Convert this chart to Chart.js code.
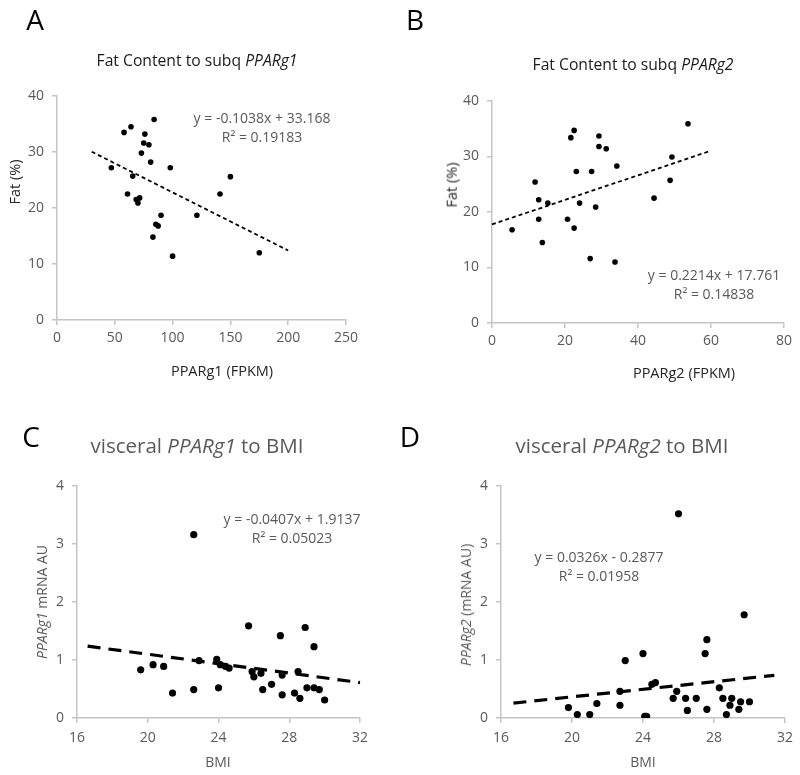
<!DOCTYPE html>
<html>
<head>
<meta charset="utf-8">
<script src="https://cdn.jsdelivr.net/npm/chart.js@4"></script>
<style>
body { margin: 0; background: #fff; }
#wrap { position: relative; width: 800px; height: 775px; font-family: "Open Sans", sans-serif; }
#wrap canvas { position: absolute; }
.t { position: absolute; white-space: nowrap; line-height: 1; transform: translate(-50%, -50%); }
.v { transform: translate(-50%, -50%) rotate(-90deg); }
.letter { font-size: 28px; color: #000; }
.ttl { font-size: 15.7px; color: #1a1a1a; }
.ttl2 { font-size: 20.5px; color: #595959; }
.eq { font-size: 14px; color: #595959; text-align: center; line-height: 19px; }
.ax { font-size: 14.5px; color: #262626; }
.ax2 { font-size: 14px; color: #595959; }
</style>
</head>
<body>
<div id="wrap">
  <canvas id="chartA" width="400" height="385" style="left:0;top:0"></canvas>
  <canvas id="chartB" width="400" height="385" style="left:400px;top:0"></canvas>
  <canvas id="chartC" width="400" height="390" style="left:0;top:385px"></canvas>
  <canvas id="chartD" width="400" height="390" style="left:400px;top:385px"></canvas>

  <div class="t letter" style="left:35px;top:19px">A</div>
  <div class="t letter" style="left:415px;top:19px">B</div>
  <div class="t letter" style="left:31px;top:436px">C</div>
  <div class="t letter" style="left:410px;top:436px">D</div>

  <div class="t ttl" style="left:197px;top:61px">Fat Content to subq <i>PPARg1</i></div>
  <div class="t ttl" style="left:633px;top:65px">Fat Content to subq <i>PPARg2</i></div>
  <div class="t ttl2" style="left:197px;top:445px">visceral <i>PPARg1</i> to BMI</div>
  <div class="t ttl2" style="left:622px;top:445px">visceral <i>PPARg2</i> to BMI</div>

  <div class="t eq" style="left:262px;top:127px">y = -0.1038x + 33.168<br>R² = 0.19183</div>
  <div class="t eq" style="left:714px;top:284px">y = 0.2214x + 17.761<br>R² = 0.14838</div>
  <div class="t eq" style="left:292px;top:528px">y = -0.0407x + 1.9137<br>R² = 0.05023</div>
  <div class="t eq" style="left:599px;top:566px">y = 0.0326x - 0.2877<br>R² = 0.01958</div>

  <div class="t ax v" style="left:15px;top:182px">Fat (%)</div>
  <div class="t ax" style="left:222px;top:371px">PPARg1 (FPKM)</div>
  <div class="t ax v" style="left:452px;top:185px">Fat (%)</div>
  <div class="t ax" style="left:684px;top:373px">PPARg2 (FPKM)</div>
  <div class="t ax2 v" style="left:42px;top:602px"><i>PPARg1</i> mRNA AU</div>
  <div class="t ax2" style="left:218px;top:762px">BMI</div>
  <div class="t ax2 v" style="left:466px;top:605px"><i>PPARg2</i> (mRNA AU)</div>
  <div class="t ax2" style="left:643px;top:762px">BMI</div>
</div>

<script>
// A: subcutaneous PPARg1 (FPKM) vs fat %
var pparg1Fpkm = [47, 58, 64, 84, 76, 75, 79.5, 73, 81, 98, 65.5, 61, 68.5, 71.5, 70, 90, 85.5, 87.5, 83, 100, 121, 141, 150, 175];
var fatA = [27.2, 33.5, 34.5, 35.8, 33.2, 31.6, 31.3, 29.8, 28.2, 27.2, 25.7, 22.5, 21.5, 21.8, 20.9, 18.7, 17.1, 16.8, 14.8, 11.4, 18.7, 22.5, 25.6, 12.0];
var trendA = [[30, 30.05], [200, 12.41]];
var xTicksA = [0, 50, 100, 150, 200, 250];
var yTicksA = [0, 10, 20, 30, 40];

// B: subcutaneous PPARg2 (FPKM) vs fat %
var pparg2Fpkm = [5.5, 11.8, 12.8, 15.3, 12.8, 13.8, 20.7, 21.6, 22.5, 23.1, 22.5, 24.0, 27.3, 26.9, 28.4, 29.3, 29.3, 31.3, 34.2, 33.7, 44.4, 48.8, 49.3, 53.7];
var fatB = [16.8, 25.4, 22.2, 21.6, 18.7, 14.5, 18.7, 33.4, 34.7, 27.3, 17.1, 21.6, 27.3, 11.6, 20.9, 33.7, 31.8, 31.4, 28.3, 11.0, 22.5, 25.7, 29.9, 35.9];
var trendB = [[0, 17.76], [60, 31.04]];
var xTicksB = [0, 20, 40, 60, 80];
var yTicksB = [0, 10, 20, 30, 40];

// C: visceral PPARg1 vs BMI
var bmiC = [19.6, 20.3, 20.9, 21.4, 22.6, 22.6, 22.9, 23.9, 24.0, 24.1, 24.4, 24.6, 25.7, 25.9, 26.0, 26.4, 26.5, 27.0, 27.5, 27.6, 27.6, 28.3, 28.5, 28.6, 28.9, 29.0, 29.4, 29.4, 29.7, 30.0];
var pparg1Visc = [0.83, 0.92, 0.89, 0.43, 3.16, 0.49, 0.99, 1.01, 0.52, 0.92, 0.89, 0.86, 1.59, 0.80, 0.71, 0.77, 0.49, 0.58, 1.42, 0.74, 0.40, 0.43, 0.80, 0.34, 1.56, 0.52, 1.23, 0.52, 0.49, 0.31];
var trendC = [[16.6, 1.238], [32, 0.611]];
var xTicksC = [16, 20, 24, 28, 32];
var yTicksC = [0, 1, 2, 3, 4];

// D: visceral PPARg2 vs BMI
var bmiD = [19.8, 20.3, 21.0, 21.4, 22.7, 22.7, 23.0, 24.0, 24.1, 24.2, 24.5, 24.7, 25.7, 25.9, 26.0, 26.4, 26.5, 27.0, 27.5, 27.6, 27.6, 28.3, 28.5, 28.7, 28.9, 29.0, 29.4, 29.5, 29.7, 30.0];
var pparg2Visc = [0.18, 0.06, 0.06, 0.25, 0.46, 0.22, 0.99, 1.11, 0.03, 0.03, 0.58, 0.61, 0.34, 0.46, 3.52, 0.34, 0.13, 0.34, 1.11, 1.35, 0.15, 0.52, 0.34, 0.06, 0.22, 0.34, 0.15, 0.28, 1.78, 0.28];
var trendD = [[16.7, 0.257], [31.4, 0.736]];
var xTicksD = [16, 20, 24, 28, 32];
var yTicksD = [0, 1, 2, 3, 4];

function toPoints(xs, ys) {
    return xs.map(function (x, i) { return { x: x, y: ys[i] }; });
}

function makeAxis(ticks, fit, pad) {
    return {
        type: 'linear',
        min: ticks[0],
        max: ticks[ticks.length - 1],
        afterBuildTicks: function (s) { s.ticks = ticks.map(function (v) { return { value: v }; }); },
        afterFit: fit,
        grid: { drawOnChartArea: false, drawTicks: true, tickLength: 5, color: '#c4c4c4', lineWidth: 1.5 },
        border: { color: '#c4c4c4', width: 1.5 },
        ticks: { color: '#595959', padding: pad, font: { family: 'Open Sans', size: 14 } }
    };
}

function makePanel(id, xs, ys, trend, xTicks, yTicks, box, dot, lineW, dash) {
    new Chart(document.getElementById(id), {
        type: 'scatter',
        data: {
            datasets: [{
                data: toPoints(xs, ys),
                backgroundColor: '#000',
                borderWidth: 0,
                pointRadius: dot
            }, {
                type: 'line',
                data: trend.map(function (p) { return { x: p[0], y: p[1] }; }),
                borderColor: '#000',
                borderWidth: lineW,
                borderDash: dash,
                pointRadius: 0,
                fill: false,
                clip: false
            }]
        },
        options: {
            responsive: false,
            animation: false,
            devicePixelRatio: 1,
            layout: { padding: { left: 0, top: box.top, right: box.right, bottom: 0 } },
            plugins: { legend: { display: false }, tooltip: { enabled: false } },
            scales: {
                x: makeAxis(xTicks, function (s) { s.height = box.xh; }, box.xpad),
                y: makeAxis(yTicks, function (s) { s.width = box.yw; }, 8)
            }
        }
    });
}

makePanel('chartA', pparg1Fpkm, fatA, trendA, xTicksA, yTicksA,
    { top: 96, right: 54, xh: 65, yw: 57, xpad: 5 }, 2.8, 1.8, [4, 3]);
makePanel('chartB', pparg2Fpkm, fatB, trendB, xTicksB, yTicksB,
    { top: 101, right: 16, xh: 62, yw: 92, xpad: 5 }, 2.8, 1.8, [4, 3]);
makePanel('chartC', bmiC, pparg1Visc, trendC, xTicksC, yTicksC,
    { top: 101, right: 40, xh: 57, yw: 77, xpad: 7 }, 3.6, 3.2, [13, 8]);
makePanel('chartD', bmiD, pparg2Visc, trendD, xTicksD, yTicksD,
    { top: 101, right: 14, xh: 57, yw: 101, xpad: 7 }, 3.6, 3.2, [13, 8]);
</script>
</body>
</html>
